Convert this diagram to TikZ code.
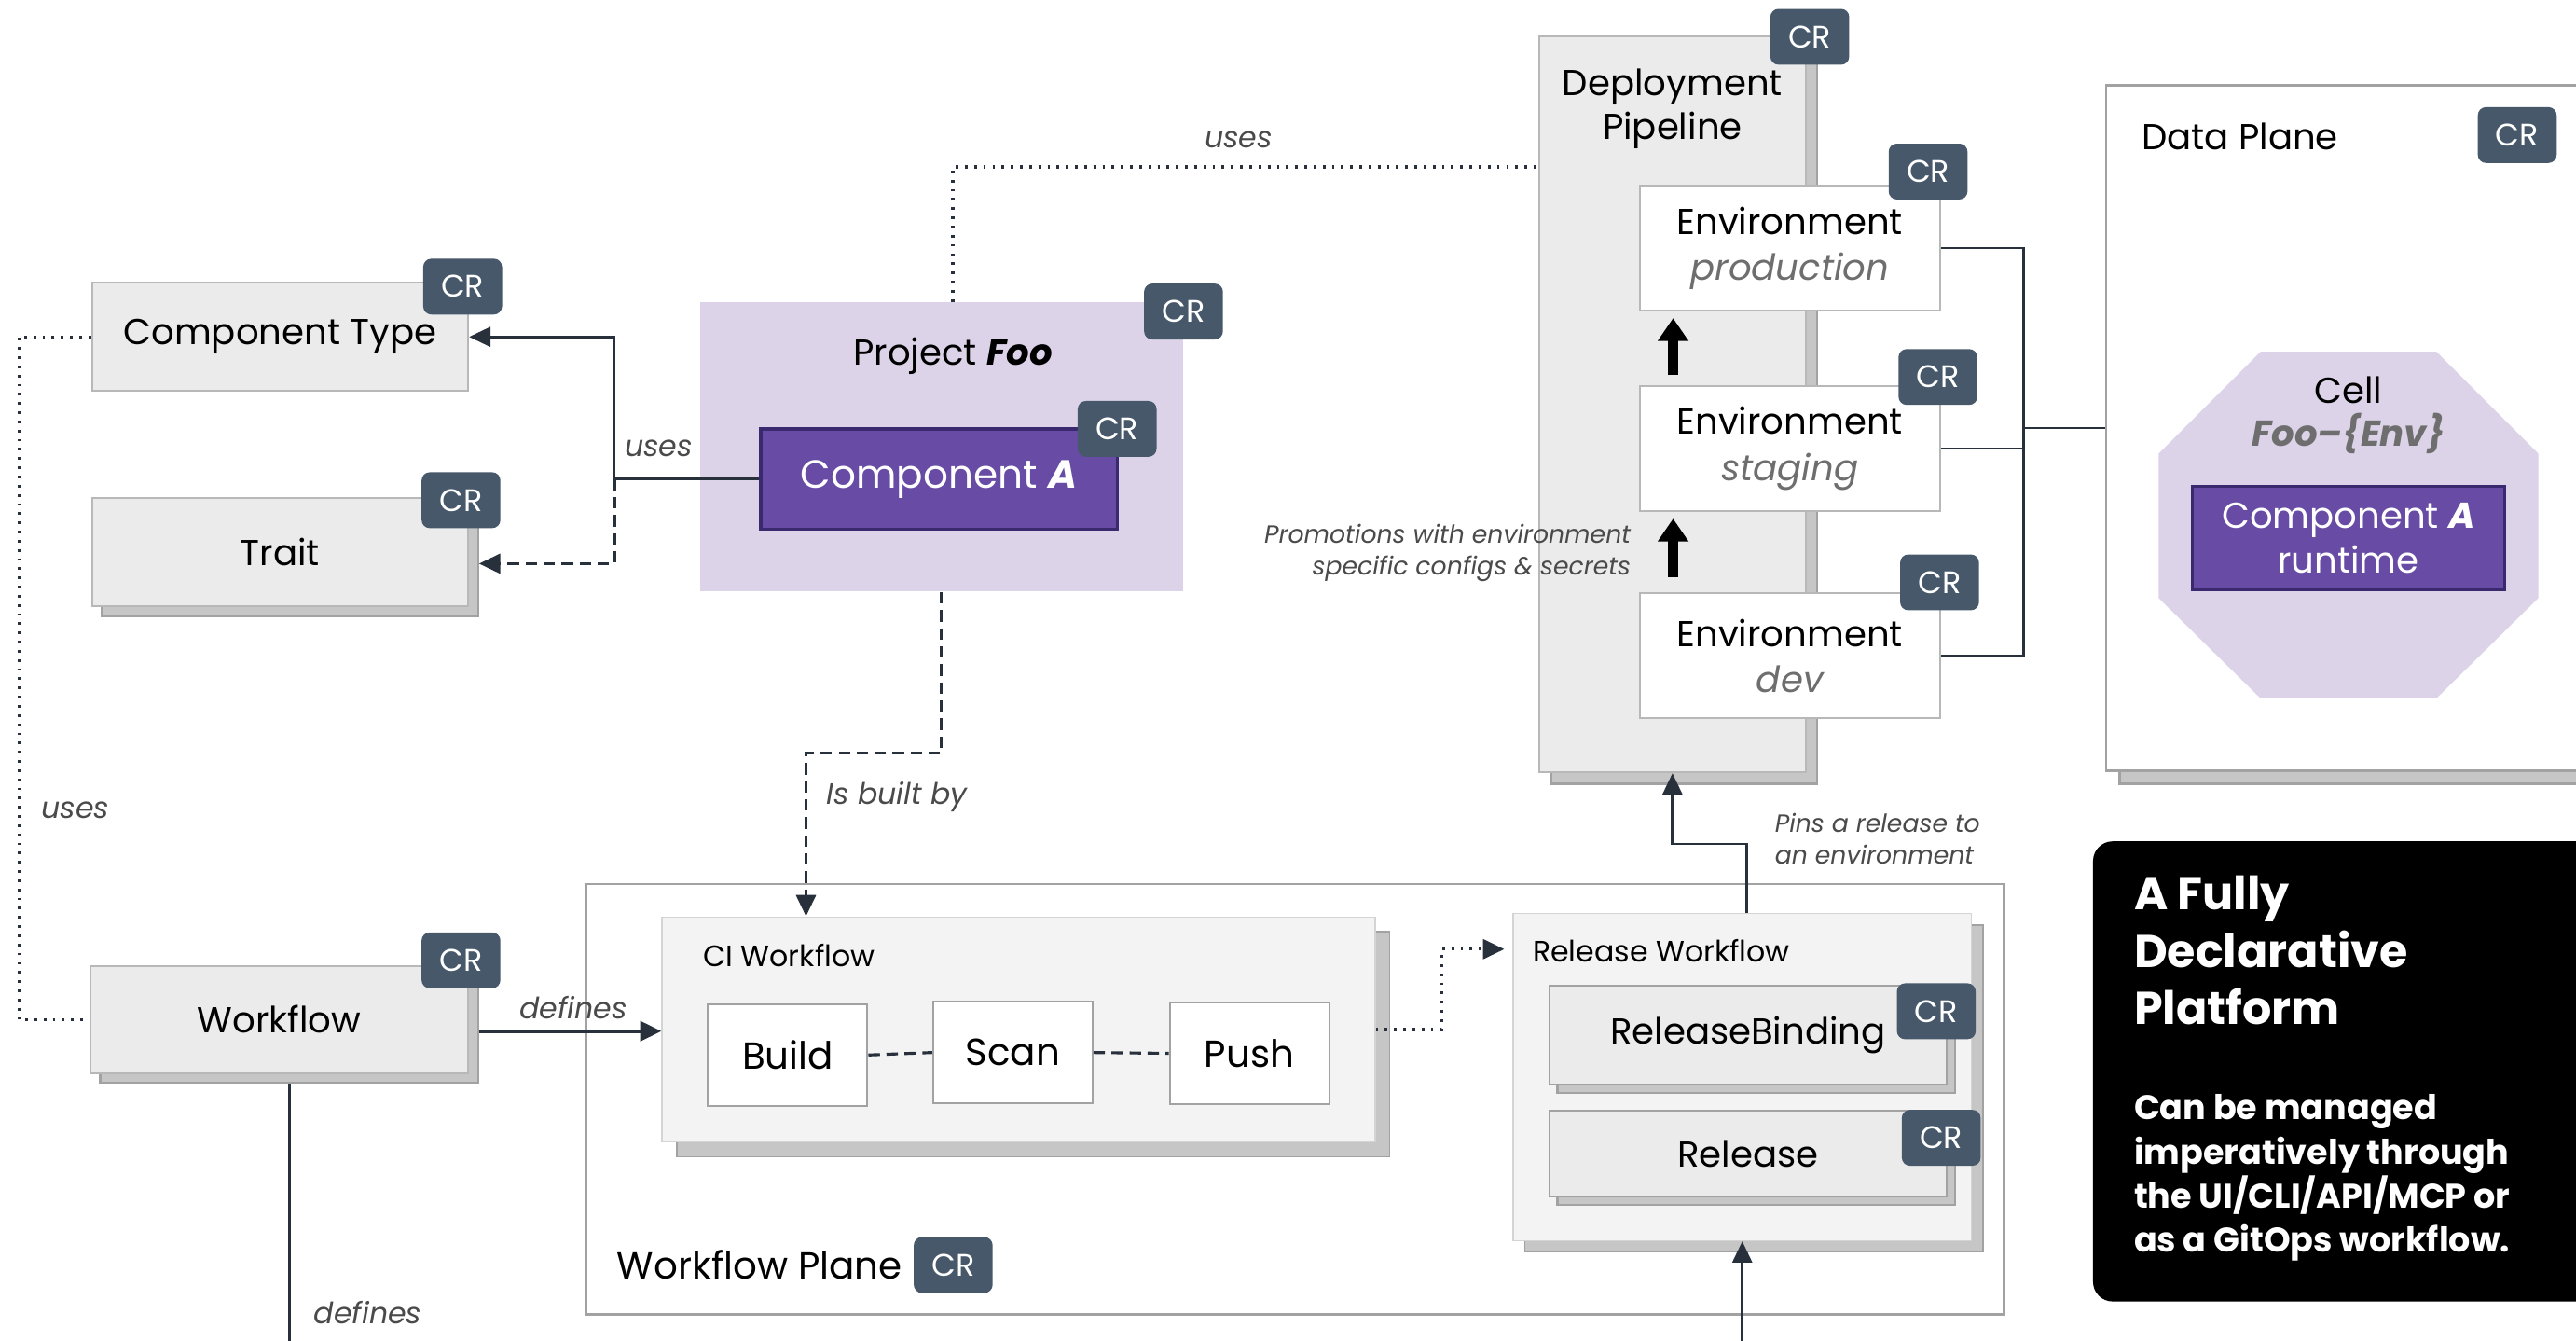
\documentclass[tikz,border=0pt]{standalone}
\usepackage{fontspec}
\setmainfont{Poppins}
\usepackage{tikz}
\usetikzlibrary{calc,arrows.meta,shadows}

\definecolor{panel}{HTML}{EBEBEB}
\definecolor{panellight}{HTML}{F3F3F3}
\definecolor{edge}{HTML}{B8B8B8}
\definecolor{stackgray}{HTML}{C6C6C6}
\definecolor{stackedge}{HTML}{A2A2A2}
\definecolor{lavender}{HTML}{DCD3E8}
\definecolor{grape}{HTML}{674BA4}
\definecolor{grapeedge}{HTML}{3B2970}
\definecolor{slate}{HTML}{46586A}
\definecolor{ink}{HTML}{27303B}
\definecolor{note}{HTML}{4A4A4A}
\definecolor{envgray}{HTML}{6E6E6E}

\def\unitpx{0.017621cm}
\def\drawlink{\draw[color=ink, line width=0.8pt]}
\def\drawdash{\draw[color=ink, line width=0.9pt, dash pattern=on 3.5pt off 2pt]}
\def\drawdots{\draw[color=ink, line width=0.9pt, dash pattern=on 0.8pt off 2pt]}
\def\crnode{\node[crbadge]}
\def\tagnode{\node[edgetag]}

\tikzset{
  dims/.style 2 args={minimum width=#1*\unitpx, minimum height=#2*\unitpx},
  stacked/.style={copy shadow={shadow xshift=#1*\unitpx, shadow yshift=-#1*\unitpx, fill=stackgray, draw=stackedge}},
  graybox/.style={draw=edge, fill=panel, line width=0.6pt, font=\fontsize{11}{13.5}\selectfont},
  whitebox/.style={draw=edge, fill=white, line width=0.6pt, font=\fontsize{11}{14}\selectfont, align=center},
  crbadge/.style={fill=slate, text=white, rounded corners=2.5pt, dims={48}{34}, font=\fontsize{9.5}{11}\selectfont},
  edgetag/.style={text=note, font=\fontsize{9}{11}\selectfont\itshape},
  promote/.style={-{Triangle[length=7pt,width=9pt]}, line width=3pt, color=black},
}

\begin{document}
\begin{tikzpicture}[x=\unitpx, y=-\unitpx, inner sep=0pt, >={Triangle[length=6.5pt,width=6pt]}]
\useasboundingbox (0,0) rectangle (1568,816);

% ---------- left column: types, traits, workflows
\node[graybox, dims={229}{66}] (ctype) at (170.5,205) {Component Type};
\node[graybox, stacked=6, dims={229}{66}] (trait) at (170.5,336) {Trait};
\node[graybox, stacked=6, dims={230}{65}] (wflow) at (170,620.5) {Workflow};
\crnode (crctype) at ($ (ctype.north east) + (-4,3) $) {CR};
\crnode (crtrait) at ($ (trait.north east) + (-5,2) $) {CR};
\crnode (crwflow) at ($ (wflow.north east) + (-5,-3) $) {CR};

% ---------- project and its component
\node[fill=lavender, dims={294}{176}] (proj) at (573,272) {};
\node[font=\fontsize{11}{13.5}\selectfont] (projtitle) at ($ (proj.north) + (7,33) $) {Project \textbf{\textit{Foo}}};
\node[fill=grape, draw=grapeedge, line width=1pt, text=white, dims={217}{61}, font=\fontsize{12}{14}\selectfont] (compa) at (571.5,291.5) {Component \textbf{\textit{A}}};
\crnode (crproj) at ($ (proj.north east) + (0,6) $) {CR};
\crnode (crcompa) at ($ (compa.north east) + (-1,1) $) {CR};

% ---------- deployment pipeline with its environments
\node[graybox, stacked=7, dims={162}{448}] (deploy) at (1018,246) {};
\node[font=\fontsize{11}{13.5}\selectfont, align=center, anchor=north] (deploytitle) at ($ (deploy.north) + (0,20) $) {Deployment\\Pipeline};
\node[whitebox, dims={183}{76}] (envprod) at (1089.5,151) {Environment\\\textcolor{envgray}{\itshape production}};
\node[whitebox, dims={183}{76}] (envstg) at (1089.5,273) {Environment\\\textcolor{envgray}{\itshape staging}};
\node[whitebox, dims={183}{76}] (envdev) at (1089.5,399) {Environment\\\textcolor{envgray}{\itshape dev}};
\crnode (crdeploy) at ($ (deploy.north east) + (2,1) $) {CR};
\crnode (crprod) at ($ (envprod.north east) + (-8,-8) $) {CR};
\crnode (crstg) at ($ (envstg.north east) + (-2,-5) $) {CR};
\crnode (crdev) at ($ (envdev.north east) + (-1,-6) $) {CR};

% promotions between the environments
\draw[promote] ($ (envdev.north west) + (21,-9) $) -- ($ (envstg.south west) + (21,4) $);
\draw[promote] ($ (envstg.north west) + (21,-6) $) -- ($ (envprod.south west) + (21,4) $);
\node[edgetag, font=\fontsize{7.6}{9.5}\selectfont\itshape, align=right, anchor=east] (promolabel) at (993,336.5) {Promotions with environment\\specific configs \& secrets};

% ---------- data plane
\node[draw=stackedge, fill=white, line width=0.8pt, stacked=8, dims={338}{417}] (data) at (1451,260.5) {};
\node[font=\fontsize{11}{13.5}\selectfont, anchor=west] (datatitle) at ($ (data.north west) + (22,32) $) {Data Plane};
\crnode (crdata) at ($ (data.north west) + (251,31) $) {CR};
\coordinate (cell) at (1429.5,319.5); % middle of the octagon
\fill[lavender] ($ (cell) + (-53.5,-105.5) $) -- ($ (cell) + (53.5,-105.5) $) -- ($ (cell) + (115.5,-43.5) $) -- ($ (cell) + (115.5,44.5) $) -- ($ (cell) + (53.5,105.5) $) -- ($ (cell) + (-53.5,105.5) $) -- ($ (cell) + (-115.5,44.5) $) -- ($ (cell) + (-115.5,-43.5) $) -- cycle;
\node[font=\fontsize{11}{13}\selectfont, align=center] (celltitle) at ($ (cell) + (0,-67) $) {Cell\\\textcolor{envgray}{\textbf{\textit{Foo--\{Env\}}}}};
\node[fill=grape, draw=grapeedge, line width=1pt, text=white, dims={190}{63}, align=center, font=\fontsize{11}{13.5}\selectfont] (runtime) at ($ (cell) + (0,8) $) {Component \textbf{\textit{A}}\\runtime};

% the environments all land in the data plane
\coordinate (envbus) at ($ (envstg.east) + (50,0) $);
\drawlink (envprod.east) -| (envbus |- envdev.east) -- (envdev.east);
\drawlink (envstg.east) -- (envbus);
\drawlink (envbus |- data.west) -- (data.west);

% ---------- workflow plane
\node[draw=stackedge, fill=white, line width=0.8pt, dims={863}{262}] (wplane) at (788.5,669) {};
\node[font=\fontsize{11.5}{14}\selectfont, anchor=west] (wplanetitle) at ($ (wplane.south west) + (19,-31) $) {Workflow Plane};
\crnode (crwplane) at ($ (wplane.south west) + (224,-31) $) {CR};

\node[draw=edge!60, fill=panellight, stacked=9, dims={434}{137}] (ciwf) at (620,626.5) {};
\node[anchor=west, font=\fontsize{9}{11}\selectfont] (cititle) at ($ (ciwf.north west) + (25,24) $) {CI Workflow};
\node[whitebox, draw=stackedge, dims={97}{62}, font=\fontsize{11.5}{14}\selectfont] (build) at (479.5,642) {Build};
\node[whitebox, draw=stackedge, dims={97}{62}, font=\fontsize{11.5}{14}\selectfont] (scan) at (616.5,640.5) {Scan};
\node[whitebox, draw=stackedge, dims={97}{62}, font=\fontsize{11.5}{14}\selectfont] (push) at (760.5,641) {Push};
\drawdash (build.east) -- (scan.west);
\drawdash (scan.east) -- (push.west);

\node[draw=edge!60, fill=panellight, stacked=7, dims={279}{199}] (relwf) at (1060.5,655.5) {};
\node[anchor=west, font=\fontsize{9}{11}\selectfont] (reltitle) at ($ (relwf.north west) + (12,23) $) {Release Workflow};
\node[graybox, draw=stackedge, stacked=5, dims={242}{60}] (relbind) at (1064,630) {ReleaseBinding};
\node[graybox, draw=stackedge, stacked=5, dims={242}{52}] (release) at (1064,702) {Release};
\crnode (crrelbind) at ($ (relbind.north east) + (-7,16) $) {CR};
\crnode (crrelease) at ($ (release.north east) + (-4,17) $) {CR};

% ---------- the black note
\node[fill=black, rounded corners=6pt, dims={346}{280}] (platform) at (1447,652) {};
\node[anchor=north west, align=left, text=white, font=\fontsize{14}{17.5}\selectfont\bfseries] (platformtitle) at ($ (platform.north west) + (25,21) $) {A Fully\\Declarative\\Platform};
\node[anchor=north west, align=left, text=white, font=\fontsize{10.4}{13.5}\selectfont\bfseries] (platformnote) at ($ (platform.north west) + (25,154) $) {Can be managed\\imperatively through\\the UI/CLI/API/MCP or\\as a GitOps workflow.};

% ---------- connectors
\coordinate (usesknee) at ($ (compa.west) + (-88,0) $); % where uses splits to type and trait
\drawlink[->] (compa.west) -- (usesknee) |- (ctype.east);
\drawdash[->] (usesknee) |- ($ (trait.east) + (6,7) $);
\tagnode (usestype) at (401,273) {uses};

\coordinate (leftrail) at ($ (ctype.west) + (-44,0) $);
\drawdots (ctype.west) -- (leftrail) |- (wflow.west);
\tagnode (usesflow) at (46,493) {uses};

\coordinate (usestop) at ($ (proj.north) + (7,-82) $);
\drawdots ($ (proj.north) + (7,0) $) -- (usestop) -- (usestop -| deploy.west);
\tagnode (usespipe) at (754,85) {uses};

\coordinate (builtknee) at ($ (proj.south) + (0,98) $);
\drawdash[->] (proj.south) -- (builtknee) -| ($ (ciwf.north west) + (88,0) $);
\tagnode (builtby) at (546,485) {Is built by};

\coordinate (defstart) at ($ (wflow.east) + (6,7) $);
\drawlink[line width=1.2pt, ->] (defstart) -- (defstart -| ciwf.west);
\tagnode (definesci) at (349,613) {defines};
\drawlink ($ (wflow.south) + (6,6) $) -- ++(0,170);
\tagnode (definesrel) at (224,799) {defines};

\coordinate (ciknee) at ($ (ciwf.east) + (40,0) $);
\drawdots[->, shorten >=2.5pt] (ciwf.east) -- (ciknee) |- ($ (relwf.north west) + (0,22) $);

\coordinate (pinknee) at ($ (relwf.north) + (2.5,-42) $);
\drawlink[->] ($ (relwf.north) + (2.5,0) $) -- (pinknee) -| (deploy.south);
\node[edgetag, font=\fontsize{7.6}{9.8}\selectfont\itshape, align=left, anchor=west] (pinlabel) at (1080,510.5) {Pins a release to\\an environment};

\drawlink[->] ($ (relwf.south) + (0,70) $) -- (relwf.south);
\end{tikzpicture}
\end{document}
